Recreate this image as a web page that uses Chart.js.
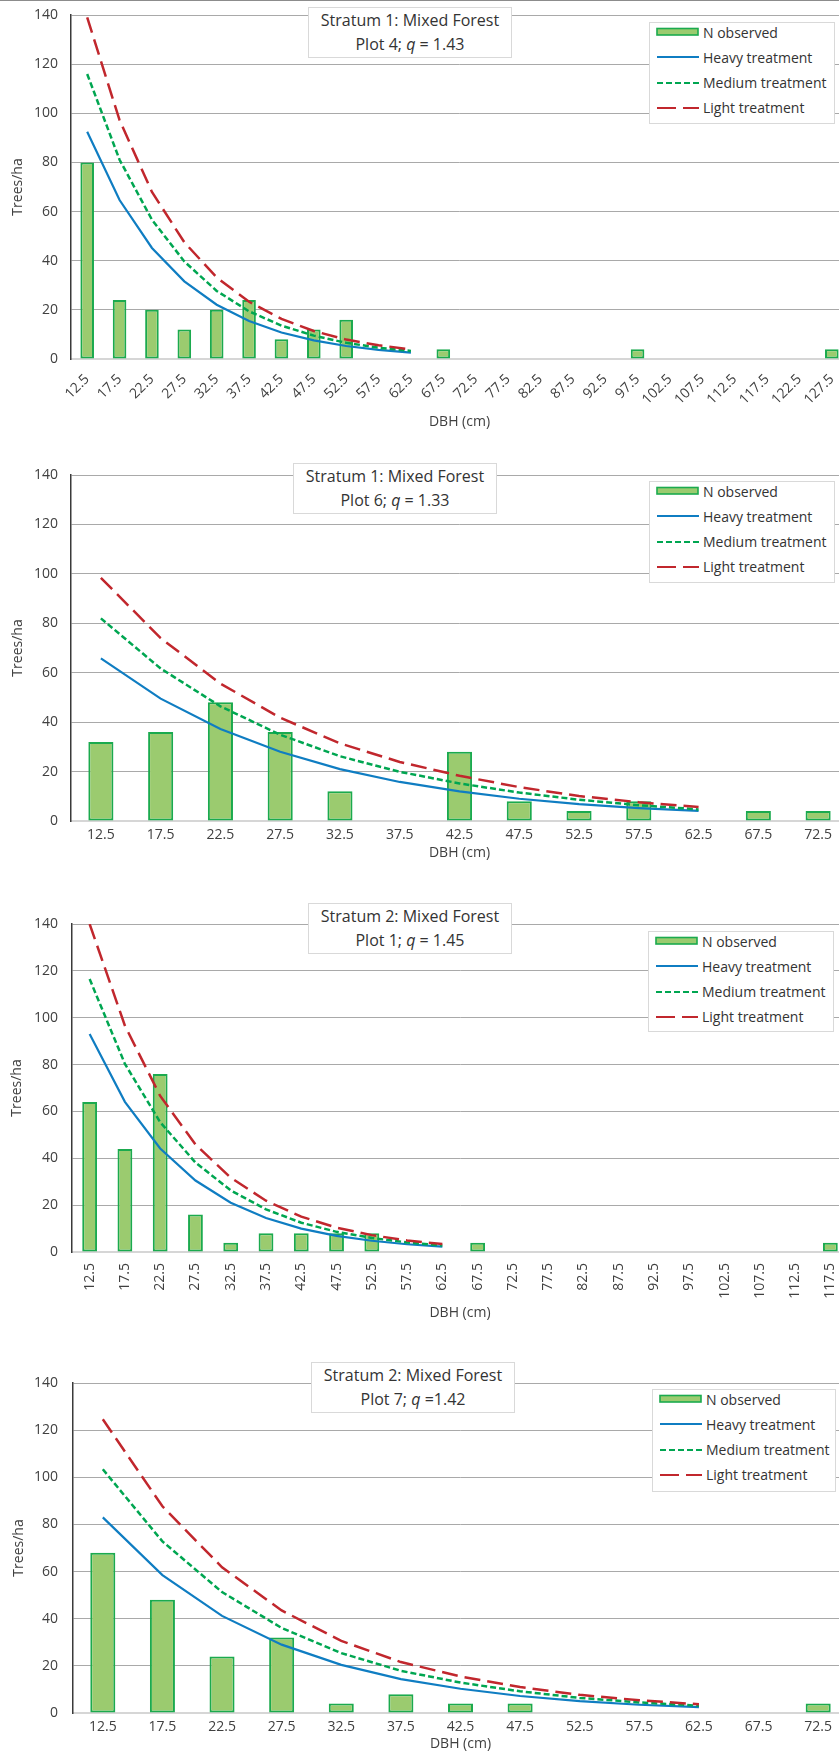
<!DOCTYPE html>
<html>
<head>
<meta charset="utf-8">
<script src="https://cdn.jsdelivr.net/npm/chart.js@4.4.1/dist/chart.umd.min.js"></script>
<style>
html,body{margin:0;padding:0;background:#fff;width:839px;height:1752px;overflow:hidden;}
body{position:relative;font-family:"Open Sans",sans-serif;}
.wrap{position:absolute;left:0;width:848px;}
.wrap canvas{display:block;}
.tbox{position:absolute;background:#fff;border:1.5px solid #d9d9d9;box-sizing:border-box;text-align:center;font-size:16px;line-height:24px;color:#333;}
.lbox{position:absolute;background:#fff;border:1.5px solid #d9d9d9;box-sizing:border-box;font-size:14px;color:#333;}
.row{position:absolute;left:6px;height:20px;display:flex;align-items:center;white-space:nowrap;}
.row svg{margin-right:4px;display:block;}
.topline{position:absolute;left:0;top:0;width:839px;height:1px;background:#8c8c8c;}
</style>
</head>
<body>
<div class="topline"></div>
<script>
// ---------- DATA ----------
const legendLabels = ['N observed', 'Heavy treatment', 'Medium treatment', 'Light treatment'];

// Panel 1: Stratum 1, Plot 4, q = 1.43
const dbhPlot4 = ['12.5','17.5','22.5','27.5','32.5','37.5','42.5','47.5','52.5','57.5','62.5','67.5','72.5','77.5','82.5','87.5','92.5','97.5','102.5','107.5','112.5','117.5','122.5','127.5'];
const observedPlot4 = [80,24,20,12,20,24,8,12,16,0,0,4,0,0,0,0,0,4,0,0,0,0,0,4];
const heavyPlot4  = [92.5,64.7,45.2,31.6,22.1,15.5,10.8,7.6,5.3,3.7,2.6];
const mediumPlot4 = [116,81.1,56.7,39.7,27.7,19.4,13.6,9.5,6.6,4.6,3.3];
const lightPlot4  = [139,97.2,68,47.5,33.2,23.3,16.3,11.4,7.9,5.6,3.9];

// Panel 2: Stratum 1, Plot 6, q = 1.33
const dbhPlot6 = ['12.5','17.5','22.5','27.5','32.5','37.5','42.5','47.5','52.5','57.5','62.5','67.5','72.5'];
const observedPlot6 = [32,36,48,36,12,0,28,8,4,8,0,4,4];
const heavyPlot6  = [65.8,49.5,37.2,28,21,15.8,12,9,6.8,5.2,4.1];
const mediumPlot6 = [82,61.7,46.4,34.9,26.2,19.9,15.2,11.5,8.6,6.4,4.7];
const lightPlot6  = [98.4,74,55.6,41.8,31.4,23.9,18.3,13.7,10.1,7.6,5.7];

// Panel 3: Stratum 2, Plot 1, q = 1.45
const dbhPlot1 = ['12.5','17.5','22.5','27.5','32.5','37.5','42.5','47.5','52.5','57.5','62.5','67.5','72.5','77.5','82.5','87.5','92.5','97.5','102.5','107.5','112.5','117.5'];
const observedPlot1 = [64,44,76,16,4,8,8,8,8,0,0,4,0,0,0,0,0,0,0,0,0,4];
const heavyPlot1  = [93,64.1,44.2,30.5,21,14.5,10,6.9,4.8,3.3,2.3];
const mediumPlot1 = [116.5,80.3,55.4,38.2,26.3,18.2,12.5,8.6,6,4.1,2.8];
const lightPlot1  = [140,96.6,66.6,45.9,31.7,21.9,15.1,10.4,7.2,4.9,3.4];

// Panel 4: Stratum 2, Plot 7, q = 1.42
const dbhPlot7 = ['12.5','17.5','22.5','27.5','32.5','37.5','42.5','47.5','52.5','57.5','62.5','67.5','72.5'];
const observedPlot7 = [68,48,24,32,4,8,4,4,0,0,0,0,4];
const heavyPlot7  = [83,58.5,41.2,29,20.4,14.4,10.3,7.2,5,3.5,2.5];
const mediumPlot7 = [103.4,72.8,51.3,36.1,25.4,17.9,12.9,9.2,6.4,4.5,3.1];
const lightPlot7  = [124.6,87.7,61.8,43.5,30.6,21.6,15.5,11,7.7,5.4,3.7];

const yTicks = { min: 0, max: 140, step: 20 };

// ---------- STYLE ----------
const FONT = "'Open Sans', sans-serif";
const TXT = '#404040';
const BAR_FILL = '#9BCB6F', BAR_LINE = '#1BAA4E';
const HEAVY = '#0F7DC2', MEDIUM = '#00A651', LIGHT = '#C1272D';

Chart.defaults.font.family = FONT;

const panels = [
  { labels: dbhPlot4, obs: observedPlot4, heavy: heavyPlot4, medium: mediumPlot4, light: lightPlot4,
    top: 0, height: 432, padTop: 15, yWidth: 71, xHeight: 73, rot: 45, tickPad: 12, xtPad: 2, ytPad: 10,
    title: ['Stratum 1: Mixed Forest', 'Plot 4; <i>q</i> = 1.43'], tbox: [308, 7, 204, 51], lbox: [649, 22, 186, 102] },
  { labels: dbhPlot6, obs: observedPlot6, heavy: heavyPlot6, medium: mediumPlot6, light: lightPlot6,
    top: 440, height: 425, padTop: 35, yWidth: 71, xHeight: 44, rot: 0, tickPad: 6, xtPad: 4, ytPad: 10,
    title: ['Stratum 1: Mixed Forest', 'Plot 6; <i>q</i> = 1.33'], tbox: [293, 463, 204, 51], lbox: [649, 481, 186, 102] },
  { labels: dbhPlot1, obs: observedPlot1, heavy: heavyPlot1, medium: mediumPlot1, light: lightPlot1,
    top: 880, height: 445, padTop: 44, yWidth: 72, xHeight: 73, rot: 90, tickPad: 11, xtPad: 4, ytPad: 9,
    title: ['Stratum 2: Mixed Forest', 'Plot 1; <i>q</i> = 1.45'], tbox: [308, 903, 204, 51], lbox: [648, 931, 186, 101] },
  { labels: dbhPlot7, obs: observedPlot7, heavy: heavyPlot7, medium: mediumPlot7, light: lightPlot7,
    top: 1340, height: 412, padTop: 43, yWidth: 73, xHeight: 39, rot: 0, tickPad: 6, xtPad: 0, ytPad: 11,
    title: ['Stratum 2: Mixed Forest', 'Plot 7; <i>q</i> =1.42'], tbox: [311, 1362, 204, 51], lbox: [652, 1389, 184, 103] }
];

function swatch(i) {
  if (i === 0) return '<svg width="43" height="10"><rect x="1" y="1.5" width="41" height="6.5" fill="' + BAR_FILL + '" stroke="' + BAR_LINE + '" stroke-width="1.6"/></svg>';
  if (i === 1) return '<svg width="43" height="10"><line x1="1" y1="5" x2="43" y2="5" stroke="' + HEAVY + '" stroke-width="2"/></svg>';
  if (i === 2) return '<svg width="43" height="10"><line x1="1" y1="5" x2="43" y2="5" stroke="' + MEDIUM + '" stroke-width="2" stroke-dasharray="6 3"/></svg>';
  return '<svg width="43" height="10"><line x1="1" y1="5" x2="43" y2="5" stroke="' + LIGHT + '" stroke-width="2" stroke-dasharray="19 7"/></svg>';
}

panels.forEach((p, idx) => {
  const wrap = document.createElement('div');
  wrap.className = 'wrap';
  wrap.style.top = p.top + 'px';
  wrap.style.height = p.height + 'px';
  const cv = document.createElement('canvas');
  cv.width = 848; cv.height = p.height;
  cv.style.width = '848px'; cv.style.height = p.height + 'px';
  wrap.appendChild(cv);
  document.body.appendChild(wrap);

  new Chart(cv.getContext('2d'), {
    data: {
      labels: p.labels,
      datasets: [
        { type: 'line', label: legendLabels[3], data: p.light, borderColor: LIGHT, borderWidth: 2.5, borderDash: [16, 7],
          pointRadius: 0, tension: 0, fill: false, order: 1 },
        { type: 'line', label: legendLabels[2], data: p.medium, borderColor: MEDIUM, borderWidth: 2.5, borderDash: [6, 3],
          pointRadius: 0, tension: 0, fill: false, order: 2 },
        { type: 'line', label: legendLabels[1], data: p.heavy, borderColor: HEAVY, borderWidth: 2.2,
          pointRadius: 0, tension: 0, fill: false, order: 3 },
        { type: 'bar', label: legendLabels[0], data: p.obs.map(v => v === 0 ? null : v),
          backgroundColor: BAR_FILL, borderColor: BAR_LINE, borderWidth: 2, borderSkipped: false,
          barPercentage: 0.42, categoryPercentage: 1, order: 4 }
      ]
    },
    options: {
      responsive: false,
      animation: false,
      layout: { padding: { top: p.padTop, left: 0, right: 0, bottom: 0 } },
      plugins: { legend: { display: false }, tooltip: { enabled: false } },
      scales: {
        x: {
          type: 'category',
          offset: true,
          grid: { display: false, drawTicks: false },
          border: { display: true, color: '#d6d6d6', width: 2 },
          ticks: { autoSkip: false, minRotation: p.rot, maxRotation: p.rot, padding: p.tickPad, color: TXT,
                   font: { family: FONT, size: 14 } },
          title: { display: true, text: 'DBH (cm)', color: TXT, font: { family: FONT, size: 14 },
                   padding: { top: 0, bottom: p.xtPad } },
          afterFit(s) { s.height = p.xHeight; s.paddingLeft = 0; s.paddingRight = 0; }
        },
        y: {
          min: yTicks.min, max: yTicks.max,
          ticks: { stepSize: yTicks.step, padding: p.yWidth - 58, color: TXT, font: { family: FONT, size: 14 } },
          grid: { drawTicks: false, color: (c) => (c.tick && c.tick.value === 0) ? 'rgba(0,0,0,0)' : '#a9a9a9', lineWidth: 1 },
          border: { display: true, color: '#3a3a3a', width: 1.5 },
          title: { display: true, text: 'Trees/ha', color: TXT, font: { family: FONT, size: 14 },
                   padding: { top: p.ytPad, bottom: 0 } },
          afterFit(s) { s.width = p.yWidth; s.paddingTop = 0; s.paddingBottom = 0; }
        }
      }
    }
  });

  // title box
  const tb = document.createElement('div');
  tb.className = 'tbox';
  tb.style.left = p.tbox[0] + 'px'; tb.style.top = p.tbox[1] + 'px';
  tb.style.width = p.tbox[2] + 'px'; tb.style.height = p.tbox[3] + 'px';
  tb.innerHTML = '<div>' + p.title[0] + '</div><div>' + p.title[1] + '</div>';
  document.body.appendChild(tb);

  // legend box
  const lb = document.createElement('div');
  lb.className = 'lbox';
  lb.style.left = p.lbox[0] + 'px'; lb.style.top = p.lbox[1] + 'px';
  lb.style.width = p.lbox[2] + 'px'; lb.style.height = p.lbox[3] + 'px';
  legendLabels.forEach((lab, i) => {
    const r = document.createElement('div');
    r.className = 'row';
    r.style.top = (i * 25.3 - 1) + 'px';
    r.innerHTML = swatch(i) + '<span>' + lab + '</span>';
    lb.appendChild(r);
  });
  document.body.appendChild(lb);
});
</script>
</body>
</html>
